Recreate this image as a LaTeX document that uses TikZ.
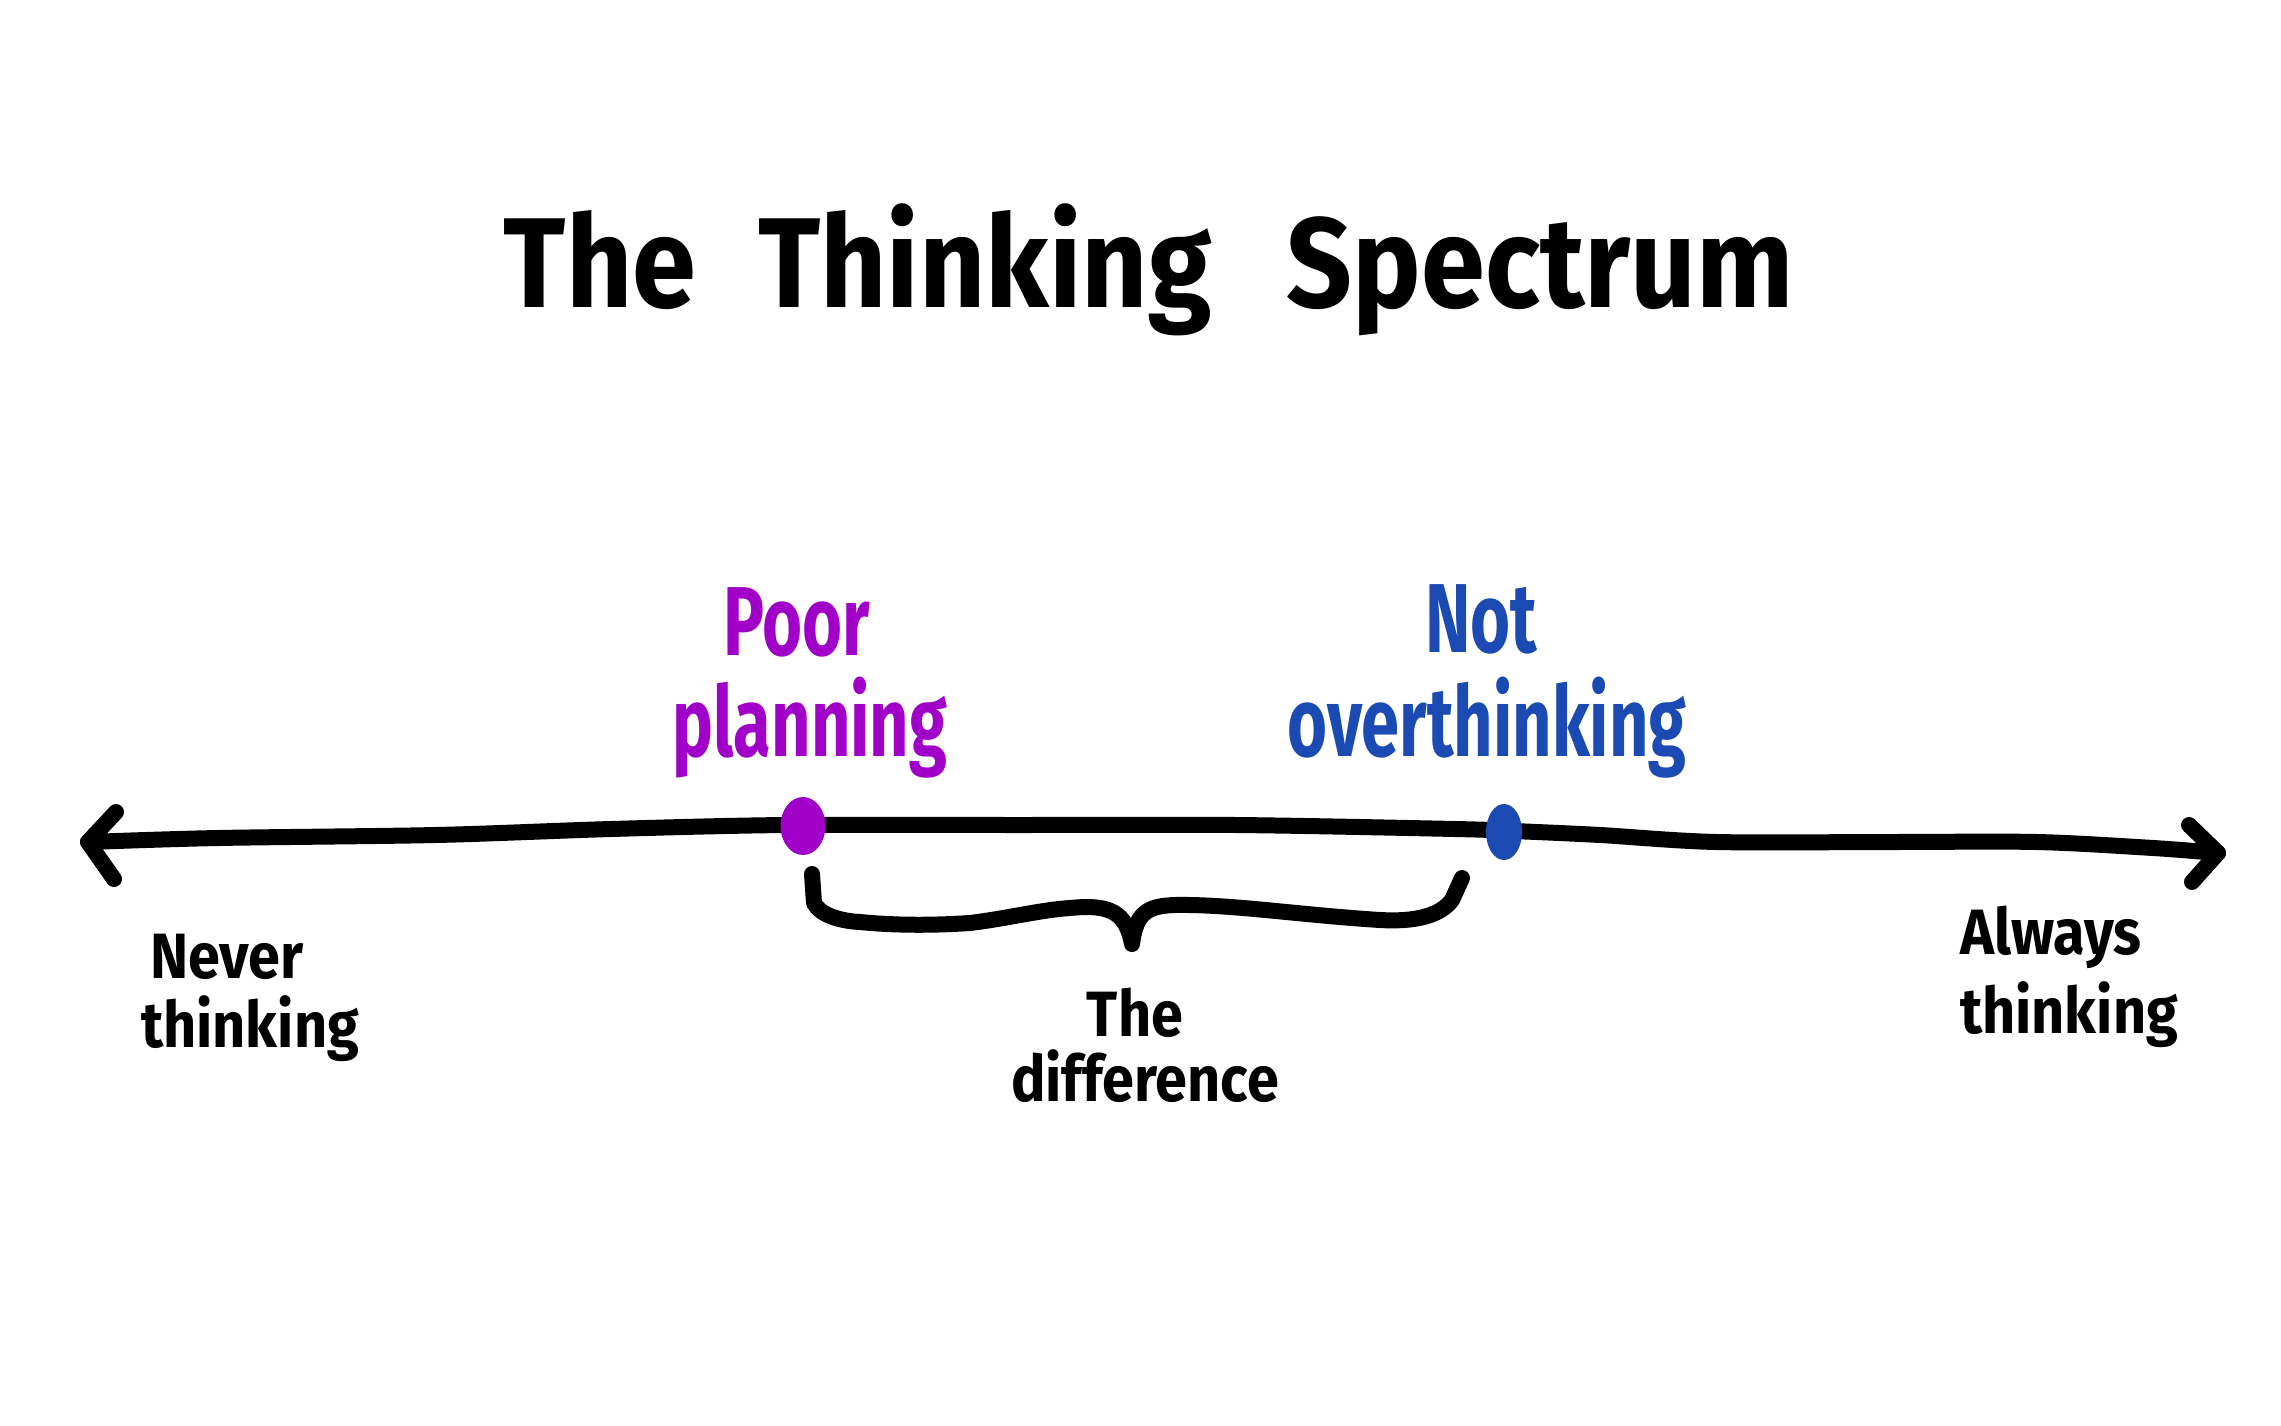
\documentclass[tikz,border=0pt]{standalone}
\usepackage{fontspec}
\setmainfont{Fira Sans}[FakeStretch=0.7]
\newfontfamily\widefont{Fira Sans}[FakeStretch=0.9]
\usetikzlibrary{shapes.geometric}
\definecolor{plum}{HTML}{A000C8}
\definecolor{navy}{HTML}{1A4AB2}
\begin{document}
\begin{tikzpicture}[x=1pt,y=-1pt,
  ink/.style={line width=16pt, line cap=round, line join=round},
  lbl/.style={anchor=base, inner sep=0pt, font=\widefont\bfseries\fontsize{64}{64}\selectfont},
  biglbl/.style={anchor=base, inner sep=0pt, font=\bfseries\fontsize{98}{98}\selectfont},
  dot/.style={ellipse, inner sep=0pt, draw=none}]
\fill[white] (0,0) rectangle (2281,1426);
\useasboundingbox (0,0) rectangle (2281,1426);
% title
\node[anchor=base, inner sep=0pt, font=\widefont\bfseries\fontsize{128}{128}\selectfont] (title) at (1149,307) {The\hspace{62pt}Thinking\hspace{75pt}Spectrum};
% spectrum line
\coordinate (Ltip) at (88,842);
\coordinate (Rtip) at (2218,853);
\draw[ink] plot[smooth, tension=0.5] coordinates {(Ltip) (218,838) (436,835) (611,829) (786,825) (1018,825) (1236,825) (1455,829) (1513,831) (1600,835) (1716,842) (1891,842) (2037,842) (2153,848) (Rtip)};
\coordinate (La) at (116,812);
\coordinate (Lb) at (114,879);
\coordinate (Ra) at (2189,825);
\coordinate (Rb) at (2192,882);
\draw[ink] (La) -- (Ltip) -- (Lb);
\draw[ink] (Ra) -- (Rtip) -- (Rb);
% dots
\node[dot, fill=plum, minimum width=45pt, minimum height=58pt] (poordot) at (803,826) {};
\node[dot, fill=navy, minimum width=36pt, minimum height=56pt] (notdot) at (1504,832) {};
% brace
\coordinate (bs) at (812,874);
\coordinate (btip) at (1132,944);
\coordinate (be) at (1462,878);
\draw[ink] (bs) -- (814,903) .. controls (820,915) and (840,921) .. (860,922)
  .. controls (900,926) and (940,925) .. (970,923)
  .. controls (1010,918) and (1040,910) .. (1070,908)
  .. controls (1110,904) and (1126,912) .. (btip)
  .. controls (1136,912) and (1148,906) .. (1175,905)
  .. controls (1230,904) and (1300,915) .. (1380,920)
  .. controls (1415,922) and (1440,916) .. (1452,900)
  -- (be);
% labels
\node[biglbl, text=plum] (poor1) at (797,655) {Poor};
\node[biglbl, text=plum] (poor2) at (810,756) {planning};
\node[biglbl, text=navy] (not1) at (1481,652) {Not};
\node[biglbl, text=navy] (not2) at (1487,756) {overthinking};
\node[lbl] (never1) at (227,978) {Never};
\node[lbl] (never2) at (250,1047) {thinking};
\node[lbl] (diff1) at (1135,1036) {The};
\node[lbl] (diff2) at (1145,1101) {difference};
\node[lbl] (always1) at (2051,954) {Always};
\node[lbl] (always2) at (2069,1033) {thinking};
\end{tikzpicture}
\end{document}
